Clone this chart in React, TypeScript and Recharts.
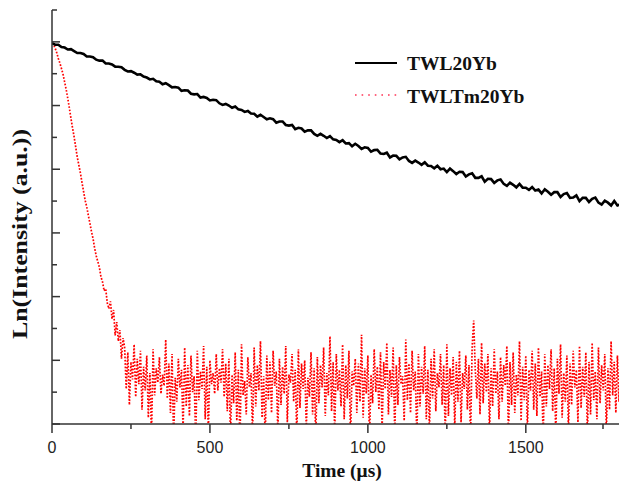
import React from 'react'
import { LineChart, Line, XAxis, YAxis } from 'recharts'

// sampling grids of the two decay traces (µs)
const blackStep = 10
const redStep = 5

// Ln(intensity) of TWL20Yb, one value per 10 µs from 0 to 1800
const twl20Yb = [
  11.96, 11.91, 11.91, 11.84, 11.82, 11.76, 11.77, 11.71, 11.65, 11.65,
  11.62, 11.54, 11.54, 11.52, 11.44, 11.41, 11.41, 11.32, 11.32, 11.29,
  11.22, 11.22, 11.20, 11.12, 11.07, 11.08, 11.03, 10.97, 10.98, 10.91,
  10.88, 10.82, 10.84, 10.76, 10.75, 10.67, 10.70, 10.64, 10.57, 10.58,
  10.56, 10.46, 10.48, 10.47, 10.37, 10.35, 10.36, 10.25, 10.27, 10.24,
  10.16, 10.18, 10.17, 10.07, 10.02, 10.05, 10.00, 9.93, 9.97, 9.88,
  9.86, 9.80, 9.83, 9.75, 9.74, 9.65, 9.71, 9.64, 9.57, 9.60,
  9.57, 9.46, 9.50, 9.50, 9.39, 9.37, 9.39, 9.26, 9.30, 9.28,
  9.18, 9.22, 9.22, 9.11, 9.05, 9.11, 9.05, 8.98, 9.04, 8.94,
  8.92, 8.85, 8.91, 8.81, 8.82, 8.72, 8.80, 8.73, 8.64, 8.69,
  8.67, 8.55, 8.60, 8.61, 8.49, 8.48, 8.52, 8.37, 8.43, 8.42,
  8.31, 8.37, 8.39, 8.26, 8.20, 8.27, 8.21, 8.14, 8.22, 8.11,
  8.10, 8.03, 8.11, 8.00, 8.02, 7.91, 8.02, 7.94, 7.85, 7.92,
  7.91, 7.77, 7.84, 7.87, 7.73, 7.73, 7.78, 7.61, 7.70, 7.69,
  7.57, 7.65, 7.68, 7.54, 7.48, 7.58, 7.51, 7.43, 7.54, 7.42,
  7.42, 7.35, 7.44, 7.33, 7.36, 7.24, 7.37, 7.29, 7.20, 7.28,
  7.28, 7.13, 7.22, 7.25, 7.10, 7.11, 7.18, 7.00, 7.10, 7.10,
  6.97, 7.07, 7.11, 6.95, 6.89, 7.01, 6.95, 6.86, 7.00, 6.86, 6.90,
]

// Ln(intensity) of TWLTm20Yb, one value per 5 µs from 0 to 1800
const twlTm20Yb = [
  11.96, 11.92, 11.80, 11.66, 11.48, 11.33, 11.16, 10.98, 10.74, 10.50,
  10.22, 9.92, 9.60, 9.30, 9.02, 8.70, 8.38, 8.13, 7.88, 7.58,
  7.30, 7.02, 6.82, 6.55, 6.30, 6.04, 5.82, 5.52, 5.28, 5.10,
  4.92, 4.62, 4.46, 4.18, 4.25, 3.80, 3.62, 3.85, 3.30, 3.58,
  2.78, 3.20, 2.60, 2.95, 2.05, 2.70,
  2.40, 1.10, 2.25, 0.60, 1.95, 1.40, 2.50, 0.85, 2.05, 1.25,
  2.30, 0.45, 1.80, 1.05, 2.15, 0.20, 1.60, -0.40, 2.35, 0.90,
  1.75, 1.30, 2.10, 0.95, 1.55, 1.20, 2.65, 0.80, 1.90, 0.35,
  2.20, -0.50, 1.45, 0.70, 2.05, 1.15, 1.70, -0.20, 2.40, 0.55,
  1.85, 0.25, 2.15, 1.00, 1.50, -0.60, 2.30, 0.75, 1.65, 1.10,
  2.45, 0.15, 1.80, -0.30, 2.00, 1.25, 1.60, 0.95, 2.20, 1.05,
  1.75, 1.30, 2.35, 0.85, 1.90, 0.40, 2.05, -0.45, 1.55, 0.65,
  2.25, 0.10, 1.70, -0.70, 2.50, 0.90, 1.35, 0.30, 2.10, 1.15,
  1.60, -0.35, 2.40, 0.55, 1.85, 1.05, 2.60, 0.20, 1.50, -0.50,
  2.15, 0.75, 1.95, 0.35, 2.30, 1.20, 1.65, -0.25, 2.05, 0.60,
  1.80, 0.95, 2.45, 0.05, 1.55, 1.30, 2.20, 0.70, 1.70, -0.40,
  2.35, 0.50, 1.90, 1.10, 2.00, -0.15, 1.45, 0.85, 2.25, 0.30,
  1.75, -0.55, 2.10, 0.65, 1.85, 1.15, 2.40, 0.25, 1.60, 0.90,
  2.75, 0.40, 1.95, -0.30, 2.20, 1.05, 1.70, 0.55, 2.50, 0.15,
  1.85, 0.80, 2.30, -0.45, 1.65, 1.20, 2.05, 0.35, 1.90, 0.70,
  2.80, 0.20, 1.75, 0.95, 2.15, -0.60, 1.55, 0.65, 2.35, 1.00,
  1.80, 0.45, 2.25, -0.20, 1.95, 1.10, 2.55, 0.30, 1.70, 0.85,
  2.40, -0.35, 1.85, 0.60, 2.10, 1.25, 1.50, 0.10, 2.65, 0.75,
  1.90, 0.35, 2.30, 1.05, 1.65, -0.50, 2.20, 0.55, 1.80, 0.95,
  2.45, 0.15, 1.70, -0.25, 2.05, 0.80, 2.35, 0.40, 1.60, 1.15,
  2.20, 0.60, 1.85, -0.40, 2.50, 0.25, 1.75, 0.90, 2.10, -0.15,
  1.95, 0.70, 2.30, 0.05, 1.60, 1.10, 2.15, 0.45, 1.85, -0.55,
  2.40, 3.25, 1.70, 0.80, 2.05, 0.30, 2.55, 0.65, 1.90, 1.00,
  2.20, -0.30, 1.75, 0.55, 2.35, 0.95, 1.65, 0.15, 2.10, 0.70,
  1.85, 1.20, 2.45, -0.45, 1.95, 0.60, 2.25, 0.35, 1.55, 0.90,
  2.60, 0.10, 1.80, 0.75, 2.15, -0.20, 1.70, 1.05, 2.30, 0.45,
  1.90, 0.25, 2.40, 0.85, 1.65, -0.50, 2.20, 0.55, 1.85, 1.10,
  2.35, 0.40, 1.75, -0.35, 2.05, 0.95, 2.50, 0.20, 1.60, 0.70,
  2.15, -0.25, 1.90, 0.60, 2.30, 1.15, 1.70, 0.05, 2.45, 0.50,
  1.80, 0.85, 2.25, -0.40, 1.95, 0.30, 2.55, 0.75, 1.65, 0.15,
  2.40, 0.65, 1.85, 1.05, 2.20, -0.30, 1.75, 0.45, 2.60, 0.90,
  1.95, 0.35, 2.15, 0.70, 1.80,
]

const xTicks = [0, 250, 500, 750, 1000, 1250, 1500, 1750]
const xLabelled = [0, 500, 1000, 1500]
const yTicks = [0, 1, 2, 3, 4, 5, 6, 7, 8, 9, 10, 11, 12, 13]
const seriesNames = ['TWL20Yb', 'TWLTm20Yb']

const blackData = twl20Yb.map((v, i) => ({ t: i * blackStep, v }))
const redData = twlTm20Yb.map((v, i) => ({ t: i * redStep, v }))

const serif = '"Liberation Serif", "Times New Roman", serif'
const sans = '"Liberation Sans", Arial, sans-serif'
const axisColor = '#333'

const XTick = (props: any) => {
  const { x, y, payload } = props
  const major = xLabelled.includes(payload.value)
  return (
    <g>
      <line x1={x} y1={y} x2={x} y2={y + (major ? 9 : 5)} stroke={axisColor} strokeWidth={1.5} />
      {major && (
        <text x={x} y={y + 29} textAnchor="middle" fontFamily={sans} fontSize={16} fill="#222">
          {payload.value}
        </text>
      )}
    </g>
  )
}

const YTick = (props: any) => {
  const { y, payload } = props
  const major = payload.value % 2 === 0
  return <line x1={52} y1={y} x2={52 + (major ? 8 : 5)} y2={y} stroke={axisColor} strokeWidth={1.5} />
}

export default function App() {
  return (
    <div style={{ position: 'absolute', left: 0, top: 0, width: 619, height: 484, overflow: 'hidden', background: '#fff' }}>
      <LineChart width={619} height={484} margin={{ top: 10, right: 0, bottom: 0, left: 2 }}>
        <XAxis
          dataKey="t"
          type="number"
          domain={[0, 1795]}
          allowDataOverflow
          ticks={xTicks}
          tick={<XTick />}
          tickLine={false}
          tickSize={0}
          tickMargin={0}
          height={60}
          axisLine={{ stroke: axisColor, strokeWidth: 1.5 }}
          label={() => (
            <text x={342} y={477} textAnchor="middle" fontFamily={serif} fontWeight="bold" fontSize={19.5} fill="#111">
              Time (μs)
            </text>
          )}
        />
        <YAxis
          type="number"
          domain={[0, 13]}
          allowDataOverflow
          ticks={yTicks}
          tick={<YTick />}
          tickLine={false}
          tickSize={0}
          tickMargin={0}
          width={50}
          axisLine={{ stroke: axisColor, strokeWidth: 1.5 }}
          label={() => (
            <text
              x={27}
              y={234}
              transform="rotate(-90 27 234)"
              textAnchor="middle"
              fontFamily={serif}
              fontWeight="bold"
              fontSize={20}
              fill="#111"
              textLength={210}
              lengthAdjust="spacingAndGlyphs"
            >
              Ln(Intensity (a.u.))
            </text>
          )}
        />
        <Line
          data={redData}
          dataKey="v"
          name={seriesNames[1]}
          stroke="#ff0000"
          strokeWidth={1.7}
          strokeDasharray="1.7 1.6"
          dot={false}
          isAnimationActive={false}
        />
        <Line
          data={blackData}
          dataKey="v"
          name={seriesNames[0]}
          stroke="#000"
          strokeWidth={2.6}
          dot={false}
          isAnimationActive={false}
        />
      </LineChart>
      <svg width={220} height={70} style={{ position: 'absolute', left: 350, top: 45 }}>
        <line x1={5} y1={18} x2={47} y2={18} stroke="#000" strokeWidth={2} />
        <text x={57} y={25} fontFamily={serif} fontWeight="bold" fontSize={19.5} fill="#111">{seriesNames[0]}</text>
        <line x1={5} y1={50} x2={47} y2={50} stroke="#ff3355" strokeWidth={1.6} strokeDasharray="1.6 5" />
        <text x={57} y={58} fontFamily={serif} fontWeight="bold" fontSize={19.5} fill="#111">{seriesNames[1]}</text>
      </svg>
    </div>
  )
}
